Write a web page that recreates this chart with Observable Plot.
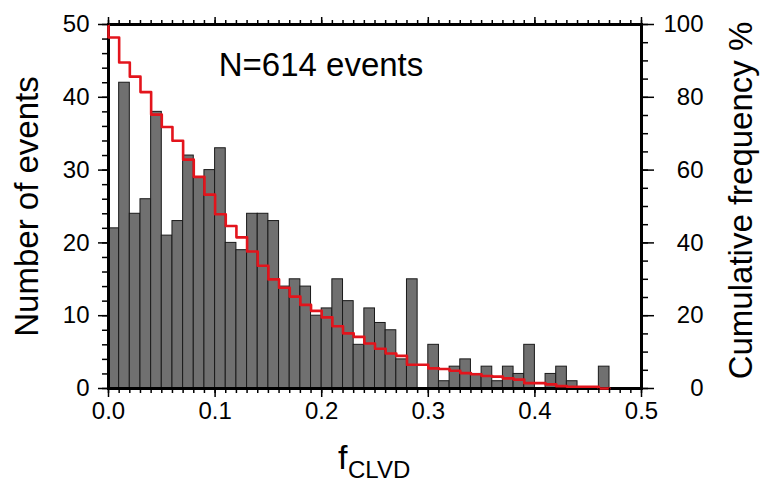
<!DOCTYPE html>
<html>
<head>
<meta charset="utf-8">
<script src="https://cdn.jsdelivr.net/npm/d3@7"></script>
<script src="https://cdn.jsdelivr.net/npm/@observablehq/plot@0.6"></script>
<style>
  body { margin: 0; background: #fff; }
</style>
</head>
<body>
<div id="chart"></div>
<script>
// ---- data ----
const binWidth = 0.01;
const binStarts = [0.00,0.01,0.02,0.03,0.04,0.05,0.06,0.07,0.08,0.09,
                   0.10,0.11,0.12,0.13,0.14,0.15,0.16,0.17,0.18,0.19,
                   0.20,0.21,0.22,0.23,0.24,0.25,0.26,0.27,0.28,0.29,
                   0.30,0.31,0.32,0.33,0.34,0.35,0.36,0.37,0.38,0.39,
                   0.40,0.41,0.42,0.43,0.44,0.45,0.46,0.47,0.48,0.49];
const counts = [22,42,24,26,38,21,23,32,29,30,
                33,20,19,24,24,23,14,15,14,10,
                11,15,12,6,11,9,8,4,15,0,
                6,1,3,4,2,3,1,3,2,6,
                0,2,3,1,0,0,3,0,0,0];
const annotation = "N=614 events";
const xTicks = [0, 0.1, 0.2, 0.3, 0.4, 0.5];
const xTickLabels = ["0.0", "0.1", "0.2", "0.3", "0.4", "0.5"];
const xMinorTicks = [...binStarts, 0.5];
const yTicks = [0, 10, 20, 30, 40, 50];
const yMinorTicks = [0,2,4,6,8,10,12,14,16,18,20,22,24,26,28,30,32,34,36,38,40,42,44,46,48,50];
const pctTicks = [0, 20, 40, 60, 80, 100];
const pctMinorTicks = [0,5,10,15,20,25,30,35,40,45,50,55,60,65,70,75,80,85,90,95,100];
const yMax = 50;       // left axis top
const pctMax = 100;    // right axis top
const pctToY = p => p * yMax / pctMax;

// ---- derived tables ----
const bars = binStarts.map((x0, i) => ({x1: x0, x2: x0 + binWidth, count: counts[i]}));
const total = d3.sum(counts);
const lastBin = d3.max(counts.map((c, i) => (c > 0 ? i : -1)));
let remaining = total;
const cum = [{x: binStarts[0], pct: 100}];
for (let i = 0; i <= lastBin; i++) {
  remaining -= counts[i];
  cum.push({x: binStarts[i], pct: 100 * remaining / total});
}
cum.push({x: binStarts[lastBin] + binWidth, pct: 100 * remaining / total});

const font = "'Liberation Sans', Arial, Helvetica, sans-serif";

const chart = Plot.plot({
  width: 760,
  height: 485,
  marginLeft: 108,
  marginRight: 119,
  marginTop: 24,
  marginBottom: 97,
  style: {fontFamily: font, color: "black", background: "white", overflow: "visible"},
  x: {domain: [0, 0.5]},
  y: {domain: [0, yMax]},
  marks: [
    Plot.rect(bars, {x1: "x1", x2: "x2", y1: 0, y2: "count", fill: "#707070", stroke: "#1a1a1a", strokeWidth: 1}),
    Plot.frame({stroke: "black", strokeWidth: 3}),
    Plot.line(cum, {x: "x", y: d => pctToY(d.pct), curve: "step-after", stroke: "#e3141c", strokeWidth: 2.6}),

    // bottom axis
    Plot.axisX({anchor: "bottom", ticks: xMinorTicks, tickSize: 5, fill: "none", label: null, strokeWidth: 1.5}),
    Plot.axisX({anchor: "bottom", ticks: xTicks, tickSize: 9, tickPadding: 4, strokeWidth: 1.5,
                tickFormat: d => xTickLabels[xTicks.indexOf(d)], fontSize: 24, label: null}),
    // top axis (ticks only)
    Plot.axisX({anchor: "top", ticks: xMinorTicks, tickSize: 5, fill: "none", label: null, strokeWidth: 1.5}),
    Plot.axisX({anchor: "top", ticks: xTicks, tickSize: 8, fill: "none", label: null, strokeWidth: 1.5}),
    // left axis
    Plot.axisY({anchor: "left", ticks: yMinorTicks, tickSize: 6, fill: "none", label: null, strokeWidth: 1.5}),
    Plot.axisY({anchor: "left", ticks: yTicks, tickSize: 10, tickPadding: 9, fontSize: 24, label: null, strokeWidth: 1.5,
                tickFormat: d => String(d)}),
    // right axis (cumulative %)
    Plot.axisY({anchor: "right", ticks: pctMinorTicks.map(pctToY), tickSize: 6, fill: "none", label: null, strokeWidth: 1.5}),
    Plot.axisY({anchor: "right", ticks: pctTicks.map(pctToY), tickSize: 12, tickPadding: 50, textAnchor: "end",
                fontSize: 24, label: null, strokeWidth: 1.5,
                tickFormat: d => String(pctTicks[pctTicks.map(pctToY).indexOf(d)])}),

    // axis titles & annotation
    Plot.text(["Number of events"], {text: d => d, frameAnchor: "left", dx: -81, rotate: -90, textAnchor: "middle", fontSize: 33}),
    Plot.text(["Cumulative frequency %"], {text: d => d, frameAnchor: "right", dx: 100, dy: -6, rotate: -90, textAnchor: "middle", fontSize: 33}),
    Plot.text(["f"], {text: d => d, frameAnchor: "bottom", dx: -37, dy: 80, textAnchor: "start", lineAnchor: "bottom", fontSize: 34}),
    Plot.text(["CLVD"], {text: d => d, frameAnchor: "bottom", dx: -27, dy: 89, textAnchor: "start", lineAnchor: "bottom", fontSize: 24}),
    Plot.text([annotation], {text: d => d, frameAnchor: "top", dx: -54, dy: 28, lineAnchor: "top", fontSize: 33})
  ]
});
document.getElementById("chart").appendChild(chart);
</script>
</body>
</html>
